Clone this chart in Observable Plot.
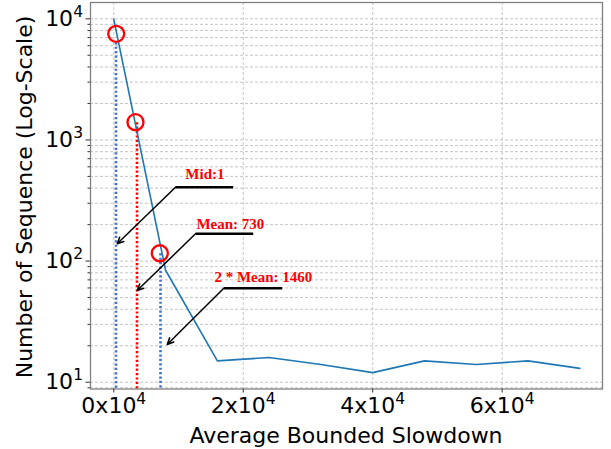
<!DOCTYPE html>
<html><head><meta charset="utf-8">
<script src="https://cdn.jsdelivr.net/npm/d3@7"></script>
<script src="https://cdn.jsdelivr.net/npm/@observablehq/plot@0.6"></script>
<style>body{margin:0;background:#fff}</style>
</head><body><div id="chart"></div>
<script>
// Data series
const xBins = [0, 8000, 16000, 24000, 32000, 40000, 48000, 56000, 64000, 72000];
const counts = [9900, 84, 15, 16, 14, 12, 15, 14, 15, 13];

// Axis ticks
const xTickValues = [0, 20000, 40000, 60000];
const yTickValues = [10, 100, 1000, 10000];
const yMinorMultipliers = [2, 3, 4, 5, 6, 7, 8, 9];
const xDomain = [-3600, 75500];
const yDomain = [8.79, 13630];

// Highlighted points (circles) and drop lines
const markX = [371, 3352, 7107];
const markY = [7520, 1401, 116];
const dropX = [340, 3584, 7215];
const dropTop = [6400, 1401, 116];
const dropColor = ["#4472c4", "#ff0000", "#4472c4"];

// Annotations
const annText = ["Mid:1", "Mean: 730", "2 * Mean: 1460"];
const annTextX = [14074, 18013, 23111];
const annTextY = [518, 200, 73];
const annBarX1 = [9532, 12622, 16994];
const annBarX2 = [18446, 21536, 26016];
const annBarY = [407, 168, 59.7];
const annTipX = [525, 3615, 8250];
const annTipY = [138.8, 57.1, 20.5];

const yMinor = [];
for (const d of [1, 10, 100, 1000]) for (const k of yMinorMultipliers) {
  const v = d * k;
  if (v >= yDomain[0] && v <= yDomain[1] && !yTickValues.includes(v)) yMinor.push(v);
}
const yGrid = [...yTickValues, ...yMinor];

const series = xBins.map((x, i) => ({x, y: counts[i]}));
const marks3 = markX.map((x, i) => ({x, y: markY[i]}));
const drops = dropX.map((x, i) => ({x, y1: dropTop[i], y2: yDomain[0], c: dropColor[i]}));
const ann = annText.map((t, i) => ({
  t, tx: annTextX[i], ty: annTextY[i],
  bx1: annBarX1[i], bx2: annBarX2[i], by: annBarY[i],
  ax: annTipX[i], ay: annTipY[i]
}));

const grid = {stroke: "#b8b8b8", strokeOpacity: 1, strokeWidth: 0.8, strokeDasharray: "3,2"};

const svg = Plot.plot({
  width: 611,
  height: 449,
  marginLeft: 90,
  marginRight: 9,
  marginTop: 2,
  marginBottom: 60.5,
  style: {fontFamily: "'DejaVu Sans', sans-serif", fontSize: "22px", background: "#fff", color: "#000"},
  x: {domain: xDomain, label: null},
  y: {type: "log", domain: yDomain, label: null},
  marks: [
    Plot.ruleY(yGrid, {y: d => d, ...grid}),
    Plot.ruleX(xTickValues, {x: d => d, ...grid}),
    Plot.link(drops, {x1: "x", x2: "x", y1: "y1", y2: "y2", stroke: "c", strokeWidth: 2.6, strokeDasharray: "2.2,2.2"}),
    Plot.line(series, {x: "x", y: "y", stroke: "#1f77b4", strokeWidth: 1.6}),
    Plot.dot(marks3, {x: "x", y: "y", r: 8, stroke: "#ff0000", strokeWidth: 2.3, fill: "none"}),
    Plot.link(ann, {x1: "bx1", x2: "bx2", y1: "by", y2: "by", stroke: "#000", strokeWidth: 2.6}),
    Plot.arrow(ann, {x1: "bx1", y1: "by", x2: "ax", y2: "ay", stroke: "#000", strokeWidth: 1.5, headLength: 7, headAngle: 50}),
    Plot.text(ann, {x: "tx", y: "ty", text: "t", fill: "#ff0000", fontSize: 15, fontWeight: "bold", fontFamily: "'Liberation Serif', 'Times New Roman', serif"}),
    Plot.frame({stroke: "#808080", strokeWidth: 1.3}),
    Plot.axisY(yMinor, {tickSize: 2.5, tickFormat: () => "", label: null, stroke: "#333"}),
    Plot.axisY(yTickValues, {tickSize: 4.5, tickPadding: 3, tickFormat: d => `10^${Math.round(Math.log10(d))}`, label: null, stroke: "#333"}),
    Plot.axisX(xTickValues, {tickSize: 4, tickPadding: 4, tickFormat: d => `${d / 1e4}x10^4`, label: null, stroke: "#333"})
  ]
});

// Superscript exponents in tick labels
d3.select(svg).selectAll("text").each(function () {
  const t = this.textContent;
  if (t.includes("^")) {
    const [base, sup] = t.split("^");
    const sel = d3.select(this);
    sel.text(null);
    sel.append("tspan").text(base);
    sel.append("tspan").attr("dy", "-9").attr("font-size", "15.5px").text(sup);
  }
});

// Axis titles
const s = d3.select(svg);
s.append("text")
  .attr("transform", "translate(31.5,197) rotate(-90)")
  .attr("text-anchor", "middle")
  .attr("font-size", "22px")
  .attr("fill", "#000")
  .text("Number of Sequence (Log-Scale)");
s.append("text")
  .attr("x", 346)
  .attr("y", 443)
  .attr("text-anchor", "middle")
  .attr("font-size", "22px")
  .attr("fill", "#000")
  .text("Average Bounded Slowdown");

document.getElementById("chart").appendChild(svg);
</script>
</body></html>
